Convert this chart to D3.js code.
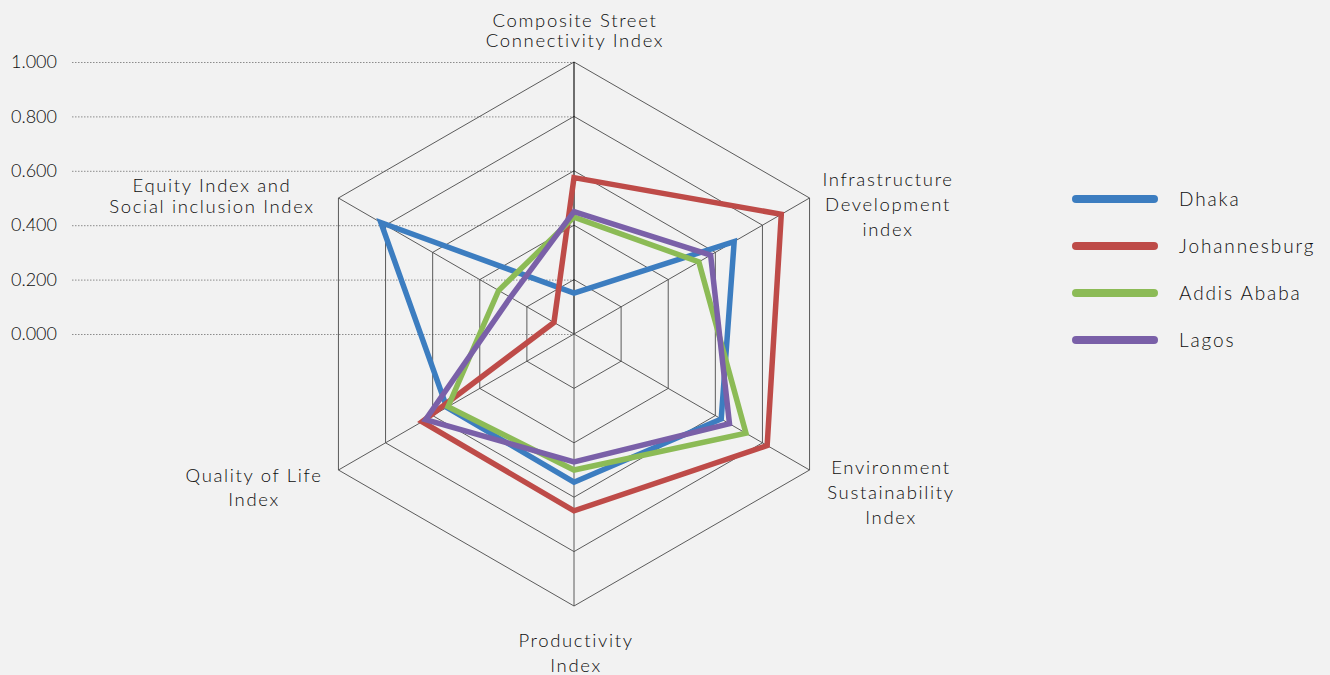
<!DOCTYPE html>
<html>
<head>
<meta charset="utf-8">
<script src="https://cdn.jsdelivr.net/npm/d3@7"></script>
<style>
  html, body { margin: 0; padding: 0; background: #f2f2f2; }
  svg { display: block; font-family: "Lato", "DejaVu Sans", sans-serif; }
</style>
</head>
<body>
<svg id="chart" width="1330" height="675"></svg>
<script>
// radar axes, clockwise from the top
var axes = [
  "Composite Street Connectivity Index",
  "Infrastructure Development index",
  "Environment Sustainability Index",
  "Productivity Index",
  "Quality of Life Index",
  "Equity Index and Social inclusion Index"
];
var cities = ["Dhaka", "Johannesburg", "Addis Ababa", "Lagos"];

var dhaka        = [0.15, 0.68, 0.625, 0.545, 0.54, 0.82];
var johannesburg = [0.575, 0.88, 0.82, 0.65, 0.645, 0.085];
var addisAbaba   = [0.43, 0.53, 0.73, 0.50, 0.535, 0.32];
var lagos        = [0.45, 0.58, 0.66, 0.47, 0.63, 0.27];

var tickValues = [0, 0.2, 0.4, 0.6, 0.8, 1.0];

var colors = ["#3c7dc0", "#be4b48", "#8cbb56", "#7a60a8"];
var seriesValues = [dhaka, johannesburg, addisAbaba, lagos];

var svg = d3.select("#chart");
var cx = 574, cy = 334, R = 272;

var r = d3.scaleLinear().domain([0, 1]).range([0, R]);
var y = d3.scaleLinear().domain([0, 1]).range([cy, cy - R]);
var angle = d3.scaleLinear().domain([0, axes.length]).range([0, 2 * Math.PI]);

function pt(i, v) {
  var a = angle(i);
  return [cx + r(v) * Math.sin(a), cy - r(v) * Math.cos(a)];
}

// left value axis with dotted lines running to the centre axis
var yAxis = d3.axisLeft(y)
  .tickValues(tickValues)
  .tickFormat(d3.format(".3f"))
  .tickSizeInner(-(cx - 72))
  .tickSizeOuter(0)
  .tickPadding(15);

var ya = svg.append("g")
  .attr("transform", "translate(72,0)")
  .call(yAxis);
ya.select(".domain").remove();
ya.selectAll(".tick line")
  .attr("stroke", "#8c8c8c")
  .attr("stroke-dasharray", "1.5,1.5");
ya.selectAll(".tick text")
  .attr("fill", "#0d0d0d")
  .style("font-size", "18px")
  .style("font-weight", 300)
  .style("font-family", "Lato, sans-serif");

// hexagon grid
var grid = svg.append("g");
tickValues.slice(1).forEach(function(t) {
  grid.append("polygon")
    .attr("points", axes.map(function(d, i) { return pt(i, t).join(","); }).join(" "))
    .attr("fill", "none")
    .attr("stroke", "#4a4a4a")
    .attr("stroke-width", 0.9);
});
axes.forEach(function(d, i) {
  var p = pt(i, 1);
  grid.append("line")
    .attr("x1", cx).attr("y1", cy)
    .attr("x2", p[0]).attr("y2", p[1])
    .attr("stroke", i === 0 ? "#000" : "#4a4a4a")
    .attr("stroke-width", i === 0 ? 1.1 : 0.9);
});

// series
var line = d3.lineRadial()
  .angle(function(d, i) { return angle(i); })
  .radius(function(d) { return r(d); })
  .curve(d3.curveLinearClosed);

svg.append("g")
  .attr("transform", "translate(" + cx + "," + cy + ")")
  .selectAll("path")
  .data(seriesValues)
  .join("path")
  .attr("d", function(d) { return line(d); })
  .attr("fill", "none")
  .attr("stroke", function(d, i) { return colors[i]; })
  .attr("stroke-width", 5.5)
  .attr("stroke-linejoin", "miter");

// axis labels (line breaks as in the picture)
var labelLayout = [
  {lines: ["Composite Street", "Connectivity Index"], x: 575, y: 27, lh: 20},
  {lines: ["Infrastructure", "Development", "index"], x: 888, y: 186, lh: 25},
  {lines: ["Environment", "Sustainability", "Index"], x: 891, y: 474, lh: 25},
  {lines: ["Productivity", "Index"], x: 576, y: 647, lh: 25},
  {lines: ["Quality of Life", "Index"], x: 254, y: 482, lh: 24},
  {lines: ["Equity Index and", "Social inclusion Index"], x: 212, y: 192, lh: 21}
];

var labels = svg.append("g")
  .selectAll("text")
  .data(labelLayout)
  .join("text")
  .attr("text-anchor", "middle")
  .attr("fill", "#0d0d0d")
  .style("font-size", "18.5px")
  .style("font-weight", 300)
  .style("letter-spacing", "1.65px");

labels.each(function(d) {
  var t = d3.select(this);
  d.lines.forEach(function(s, k) {
    t.append("tspan")
      .attr("x", d.x)
      .attr("y", d.y + k * d.lh)
      .text(s);
  });
});

// legend
var legend = svg.append("g")
  .selectAll("g")
  .data(cities)
  .join("g")
  .attr("transform", function(d, i) { return "translate(1076," + (199 + i * 47) + ")"; });

legend.append("line")
  .attr("x1", 0).attr("x2", 78)
  .attr("stroke", function(d, i) { return colors[i]; })
  .attr("stroke-width", 8)
  .attr("stroke-linecap", "round");

legend.append("text")
  .attr("x", 103)
  .attr("y", 7)
  .attr("fill", "#0d0d0d")
  .style("font-size", "19px")
  .style("font-weight", 300)
  .style("letter-spacing", "1.9px")
  .text(function(d) { return d; });
</script>
</body>
</html>
